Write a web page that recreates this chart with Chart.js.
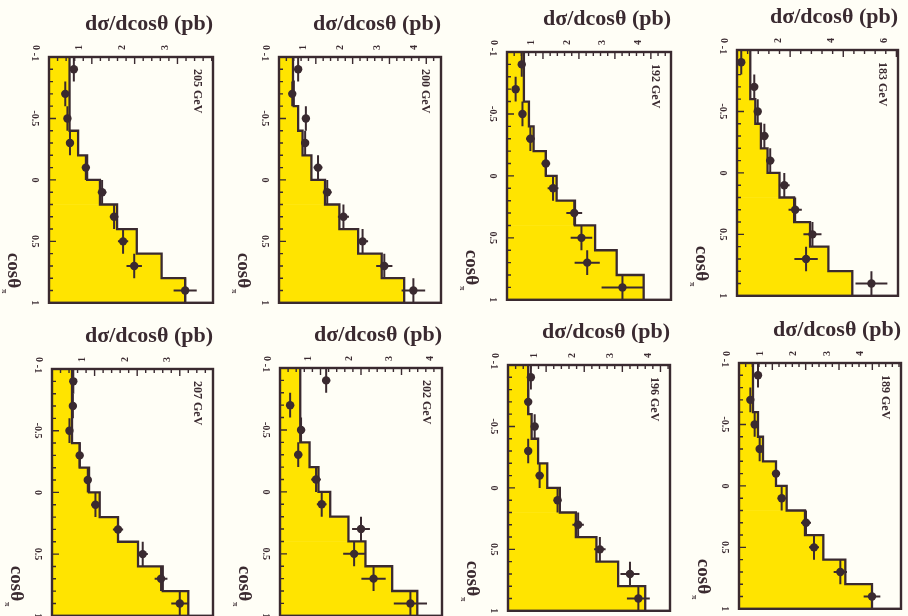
<!DOCTYPE html>
<html>
<head>
<meta charset="utf-8">
<script src="https://cdn.jsdelivr.net/npm/chart.js@4.4.1/dist/chart.umd.min.js"></script>
<style>
  html, body { margin: 0; padding: 0; background: #fffef6; width: 908px; height: 616px; overflow: hidden; position: relative; }
  canvas { position: absolute; }
</style>
</head>
<body>
<script>
// cos(theta) bins, same for every energy
var binEdges = [-1, -0.8, -0.6, -0.4, -0.2, 0, 0.2, 0.4, 0.6, 0.8, 1];
var yTicks = [-1, -0.5, 0, 0.5, 1];
var yTickLabels = ['-1', '-0.5', '0', '0.5', '1'];

// histogram (yellow, MC) , measured points and their errors, per energy
var hist205 = [0.48, 0.48, 0.48, 0.68, 0.89, 1.19, 1.59, 2.05, 2.63, 3.18];
var data205 = [0.58, 0.38, 0.43, 0.49, 0.86, 1.24, 1.52, 1.73, 1.99, 3.18];
var err205  = [0.06, 0.08, 0.08, 0.08, 0.08, 0.10, 0.10, 0.12, 0.18, 0.27];

var hist200 = [0.38, 0.40, 0.52, 0.64, 0.88, 1.25, 1.64, 2.15, 2.79, 3.40];
var data200 = [0.52, 0.36, 0.73, 0.71, 1.06, 1.31, 1.75, 2.27, 2.86, 3.65];
var err200  = [0.08, 0.08, 0.10, 0.10, 0.12, 0.12, 0.15, 0.15, 0.22, 0.32];

var hist192 = [0.47, 0.47, 0.61, 0.74, 1.08, 1.38, 1.89, 2.45, 3.05, 3.80];
var data192 = [0.41, 0.24, 0.43, 0.65, 1.08, 1.28, 1.87, 2.07, 2.23, 3.21];
var err192  = [0.08, 0.10, 0.10, 0.12, 0.12, 0.15, 0.22, 0.30, 0.35, 0.58];

var hist183 = [0.50, 0.50, 0.69, 0.90, 1.15, 1.60, 2.15, 2.75, 3.44, 4.34];
var data183 = [0.16, 0.65, 0.78, 1.03, 1.25, 1.78, 2.19, 2.84, 2.60, 5.06];
var err183  = [0.10, 0.12, 0.12, 0.15, 0.15, 0.20, 0.25, 0.34, 0.44, 0.60];

var hist207 = [0.47, 0.47, 0.47, 0.65, 0.87, 1.12, 1.55, 2.02, 2.60, 3.20];
var data207 = [0.50, 0.49, 0.41, 0.65, 0.84, 1.02, 1.55, 2.13, 2.56, 3.00];
var err207  = [0.06, 0.06, 0.08, 0.08, 0.08, 0.10, 0.12, 0.12, 0.15, 0.20];

var hist202 = [0.50, 0.50, 0.50, 0.73, 0.95, 1.24, 1.69, 2.11, 2.77, 3.39];
var data202 = [1.14, 0.25, 0.52, 0.45, 0.89, 1.03, 2.00, 1.83, 2.31, 3.22];
var err202  = [0.10, 0.10, 0.10, 0.10, 0.12, 0.12, 0.22, 0.27, 0.30, 0.41];

var hist196 = [0.53, 0.53, 0.62, 0.79, 1.03, 1.36, 1.78, 2.32, 2.89, 3.60];
var data196 = [0.60, 0.53, 0.70, 0.53, 0.83, 1.30, 1.84, 2.41, 3.20, 3.42];
var err196  = [0.06, 0.06, 0.08, 0.08, 0.10, 0.10, 0.15, 0.15, 0.25, 0.30];

var hist189 = [0.42, 0.42, 0.57, 0.72, 1.11, 1.43, 1.98, 2.53, 3.19, 3.99];
var data189 = [0.57, 0.34, 0.47, 0.62, 1.11, 1.28, 2.01, 2.25, 3.04, 3.99];
var err189  = [0.08, 0.10, 0.10, 0.10, 0.12, 0.12, 0.15, 0.15, 0.20, 0.25];

var ink = '#3a2a30';
var yellow = '#ffe400';
var serif = '"Liberation Serif", "DejaVu Serif", serif';

// frame position of each panel on the page
var panels = [
  { label: '205 GeV', hist: hist205, vals: data205, errs: err205, L: 49,  T: 57,  R: 213, B: 303, xmax: 3.83, step: 1 },
  { label: '200 GeV', hist: hist200, vals: data200, errs: err200, L: 279, T: 57,  R: 441, B: 303, xmax: 4.4,  step: 1 },
  { label: '192 GeV', hist: hist192, vals: data192, errs: err192, L: 507, T: 52,  R: 671, B: 300, xmax: 4.56, step: 1 },
  { label: '183 GeV', hist: hist183, vals: data183, errs: err183, L: 737, T: 50,  R: 898, B: 296, xmax: 6.06, step: 2 },
  { label: '207 GeV', hist: hist207, vals: data207, errs: err207, L: 52,  T: 369, R: 213, B: 616, xmax: 3.78, step: 1 },
  { label: '202 GeV', hist: hist202, vals: data202, errs: err202, L: 280, T: 368, R: 442, B: 616, xmax: 4.0,  step: 1 },
  { label: '196 GeV', hist: hist196, vals: data196, errs: err196, L: 508, T: 365, R: 670, B: 611, xmax: 4.25, step: 1 },
  { label: '189 GeV', hist: hist189, vals: data189, errs: err189, L: 739, T: 363, R: 901, B: 609, xmax: 4.86, step: 1 }
];

var PADL = 50, PADT = 52, PADR = 10, PADB = 4;

var deco = {
  id: 'deco',
  beforeDatasetDraw: function (chart, args) {
    if (args.index !== 2) return;
    var ds = chart.data.datasets[2];
    var xs = chart.scales.x, ys = chart.scales.y, ctx = chart.ctx;
    var half = (binEdges[1] - binEdges[0]) / 2;
    ctx.save();
    ctx.strokeStyle = ink;
    ctx.lineWidth = 2;
    ds.data.forEach(function (p, i) {
      var e = ds.errX[i];
      ctx.beginPath();
      ctx.moveTo(xs.getPixelForValue(p.x - e), ys.getPixelForValue(p.y));
      ctx.lineTo(xs.getPixelForValue(p.x + e), ys.getPixelForValue(p.y));
      ctx.moveTo(xs.getPixelForValue(p.x), ys.getPixelForValue(p.y - half));
      ctx.lineTo(xs.getPixelForValue(p.x), ys.getPixelForValue(p.y + half));
      ctx.stroke();
    });
    ctx.restore();
  },
  afterDraw: function (chart, args, opts) {
    var ctx = chart.ctx, a = chart.chartArea;
    var xs = chart.scales.x, ys = chart.scales.y;
    ctx.save();
    ctx.strokeStyle = ink;
    ctx.fillStyle = ink;

    // frame
    ctx.lineWidth = 2.4;
    ctx.strokeRect(a.left, a.top, a.right - a.left, a.bottom - a.top);

    // ticks on the cos axis (inside)
    ctx.lineWidth = 1.4;
    ctx.beginPath();
    for (var k = 0; k <= 20; k++) {
      var py = ys.getPixelForValue(-1 + k * 0.1);
      var len = (k % 5 === 0) ? 7 : 4;
      ctx.moveTo(a.left, py);
      ctx.lineTo(a.left + len, py);
    }
    // ticks on the cross section axis (inside)
    var minor = opts.step / 5;
    for (var j = 0; j * minor <= opts.xmax; j++) {
      var px = xs.getPixelForValue(j * minor);
      var l2 = (j % 5 === 0) ? 7 : 4;
      ctx.moveTo(px, a.top);
      ctx.lineTo(px, a.top + l2);
    }
    ctx.stroke();

    // cos tick labels, turned like the rest of the scan
    ctx.font = 'bold 10px ' + serif;
    ctx.textAlign = 'center';
    ctx.textBaseline = 'middle';
    yTicks.forEach(function (v, i) {
      ctx.save();
      ctx.translate(a.left - 14, ys.getPixelForValue(v));
      ctx.rotate(Math.PI / 2);
      ctx.fillText(yTickLabels[i], 0, 0);
      ctx.restore();
    });

    // energy label
    ctx.save();
    ctx.translate(a.right - 16, a.top + 12);
    ctx.rotate(Math.PI / 2);
    ctx.font = 'bold 12px ' + serif;
    ctx.textAlign = 'left';
    ctx.fillText(opts.label, 0, 0);
    ctx.restore();

    // cos(theta)_pi axis name
    ctx.save();
    ctx.translate(a.left - 36, a.bottom - 50);
    ctx.rotate(Math.PI / 2);
    ctx.font = 'bold 19px ' + serif;
    ctx.textAlign = 'left';
    ctx.fillText('cosθ', 0, 0);
    var w = ctx.measureText('cosθ').width;
    ctx.font = 'bold 8px ' + serif;
    ctx.fillText('π', w + 1, 9);
    ctx.restore();

    ctx.restore();
  }
};

panels.forEach(function (p) {
  var canvas = document.createElement('canvas');
  var cw = (p.R - p.L) + PADL + PADR;
  var ch = (p.B - p.T) + PADT + PADB;
  canvas.width = cw;
  canvas.height = ch;
  canvas.style.width = cw + 'px';
  canvas.style.height = ch + 'px';
  canvas.style.left = (p.L - PADL) + 'px';
  canvas.style.top = (p.T - PADT) + 'px';
  document.body.appendChild(canvas);

  var centers = [];
  for (var i = 0; i < binEdges.length - 1; i++) centers.push((binEdges[i] + binEdges[i + 1]) / 2);

  // step outline of the histogram
  var outline = [];
  for (var b = 0; b < p.hist.length; b++) {
    outline.push({ x: p.hist[b], y: binEdges[b] });
    outline.push({ x: p.hist[b], y: binEdges[b + 1] });
  }

  new Chart(canvas.getContext('2d'), {
    type: 'bar',
    data: {
      datasets: [
        {
          type: 'bar',
          indexAxis: 'y',
          data: p.hist.map(function (v, i) { return { x: v, y: centers[i] }; }),
          backgroundColor: yellow,
          borderWidth: 0,
          barPercentage: 1,
          categoryPercentage: 1,
          order: 3
        },
        {
          type: 'line',
          data: outline,
          borderColor: ink,
          borderWidth: 2.3,
          pointRadius: 0,
          fill: false,
          tension: 0,
          order: 2
        },
        {
          type: 'line',
          showLine: false,
          data: p.vals.map(function (v, i) { return { x: v, y: centers[i] }; }),
          errX: p.errs,
          pointRadius: 4.2,
          pointBackgroundColor: ink,
          pointBorderWidth: 0,
          order: 1
        }
      ]
    },
    options: {
      responsive: false,
      animation: false,
      devicePixelRatio: 1,
      layout: { padding: { left: 0, top: 0, right: PADR, bottom: PADB } },
      plugins: {
        legend: { display: false },
        tooltip: { enabled: false },
        deco: { label: p.label, step: p.step, xmax: p.xmax }
      },
      scales: {
        x: {
          type: 'linear',
          position: 'top',
          offset: false,
          min: 0,
          max: p.xmax,
          grid: { display: false, drawTicks: false, offset: false },
          border: { display: false },
          ticks: {
            stepSize: p.step,
            includeBounds: false,
            minRotation: 90,
            maxRotation: 90,
            padding: 7,
            color: ink,
            font: { family: serif, size: 10, weight: 'bold' }
          },
          title: {
            display: true,
            text: 'dσ/dcosθ (pb)',
            align: 'end',
            color: ink,
            font: { family: serif, size: 22, weight: 'bold' },
            padding: { top: 6, bottom: 0 }
          },
          afterFit: function (s) { s.height = PADT; }
        },
        y: {
          type: 'linear',
          position: 'left',
          offset: false,
          min: -1,
          max: 1,
          reverse: true,
          grid: { display: false, drawTicks: false, offset: false },
          border: { display: false },
          ticks: { display: false, stepSize: 0.5 },
          afterFit: function (s) { s.width = PADL; }
        }
      }
    },
    plugins: [deco]
  });
});
</script>
</body>
</html>
